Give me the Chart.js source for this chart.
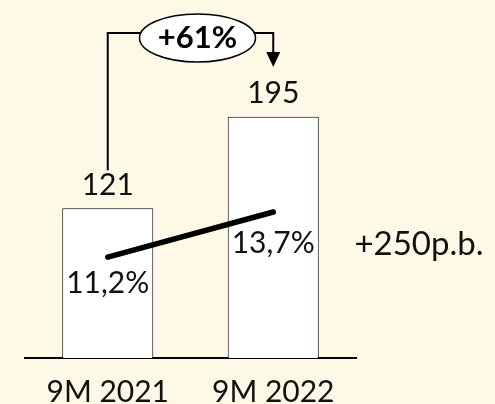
<!DOCTYPE html>
<html>
<head>
<meta charset="utf-8">
<script src="https://cdn.jsdelivr.net/npm/chart.js@4"></script>
<style>
  html, body { margin: 0; padding: 0; background: #FEF9E6; }
  #wrap { width: 495px; height: 404px; position: relative; }
</style>
</head>
<body>
<div id="wrap"><canvas id="marginChart"></canvas></div>
<script>
const periods = ['9M 2021', '9M 2022'];
const volumes = [121, 195];
const margins = [11.2, 13.7];
const volumeLabels = ['121', '195'];
const marginLabels = ['11,2%', '13,7%'];
const growthLabel = '+61%';
const marginChangeLabel = '+250p.b.';

const FONT = 'Lato, "Noto Sans", sans-serif';

function ready( fn ) {
  if ( document.readyState !== "loading" ) {
    fn();
  } else {
    document.addEventListener( "DOMContentLoaded", fn );
  }
}

// draws value labels, the growth bracket and the margin change note
const annotations = {
  id: 'annotations',
  afterDatasetsDraw(chart) {
    const ctx = chart.ctx;
    const bars = chart.getDatasetMeta(0).data;
    const points = chart.getDatasetMeta(1).data;
    ctx.save();
    ctx.fillStyle = '#111';
    ctx.textAlign = 'center';
    ctx.textBaseline = 'middle';
    ctx.font = '30px ' + FONT;

    bars.forEach((b, i) => {
      ctx.fillText(volumeLabels[i], b.x, b.y - 23);
    });
    const offs = [26, 31];
    points.forEach((p, i) => {
      ctx.fillText(marginLabels[i], p.x, p.y + offs[i]);
    });

    // +250p.b. on the right
    const area = chart.chartArea;
    ctx.font = '33px ' + FONT;
    ctx.fillText(marginChangeLabel, area.right + 63, (points[0].y + points[1].y) / 2 + 10);

    // bracket from first bar to second bar
    const x1 = bars[0].x, x2 = bars[1].x;
    const top = area.top + 3;
    const ex = (x1 + x2) / 2 + 7, ey = top + 5;
    ctx.strokeStyle = '#000';
    ctx.lineWidth = 2;
    ctx.beginPath();
    ctx.moveTo(x1, bars[0].y - 38);
    ctx.lineTo(x1, top);
    ctx.lineTo(x2, top);
    ctx.lineTo(x2, top + 20);
    ctx.stroke();
    ctx.fillStyle = '#000';
    ctx.beginPath();
    ctx.moveTo(x2 - 7, top + 19);
    ctx.lineTo(x2 + 7, top + 19);
    ctx.lineTo(x2, top + 34);
    ctx.closePath();
    ctx.fill();

    ctx.beginPath();
    ctx.ellipse(ex, ey, 58, 24, 0, 0, Math.PI * 2);
    ctx.fillStyle = '#fff';
    ctx.fill();
    ctx.lineWidth = 1.5;
    ctx.stroke();
    ctx.fillStyle = '#000';
    ctx.font = 'bold 31px ' + FONT;
    ctx.fillText(growthLabel, ex, ey);
    ctx.restore();
  }
};

ready( function () {
  marginChart();
} );

function marginChart() {
  const ctx = document.getElementById('marginChart').getContext('2d');

  const data = {
    labels: periods,
    datasets: [
      {
        type: 'bar',
        label: 'Volume',
        data: volumes,
        backgroundColor: '#fff',
        borderColor: '#000',
        borderWidth: 1,
        barPercentage: 0.55,
        categoryPercentage: 1,
        yAxisID: 'y',
        order: 1
      },
      {
        type: 'line',
        label: 'Margin',
        data: margins,
        borderColor: '#000',
        borderWidth: 5.5,
        borderCapStyle: 'round',
        pointRadius: 0,
        yAxisID: 'y2',
        order: 0
      }
    ]
  };

  const config = {
    data: data,
    options: {
      responsive: true,
      maintainAspectRatio: false,
      animation: false,
      layout: {
        padding: { top: 30, left: 25, right: 139, bottom: -14 }
      },
      plugins: {
        legend: { display: false },
        tooltip: { enabled: false }
      },
      scales: {
        x: {
          grid: { display: false },
          border: { display: true, color: '#000', width: 2 },
          ticks: {
            color: '#111',
            padding: 8,
            font: { family: FONT, size: 30 }
          }
        },
        y: {
          display: false,
          min: 0,
          max: 265
        },
        y2: {
          display: false,
          min: 5.6,
          max: 23.8
        }
      }
    },
    plugins: [annotations]
  };
  const myChart = new Chart(ctx, config);
}
</script>
</body>
</html>
